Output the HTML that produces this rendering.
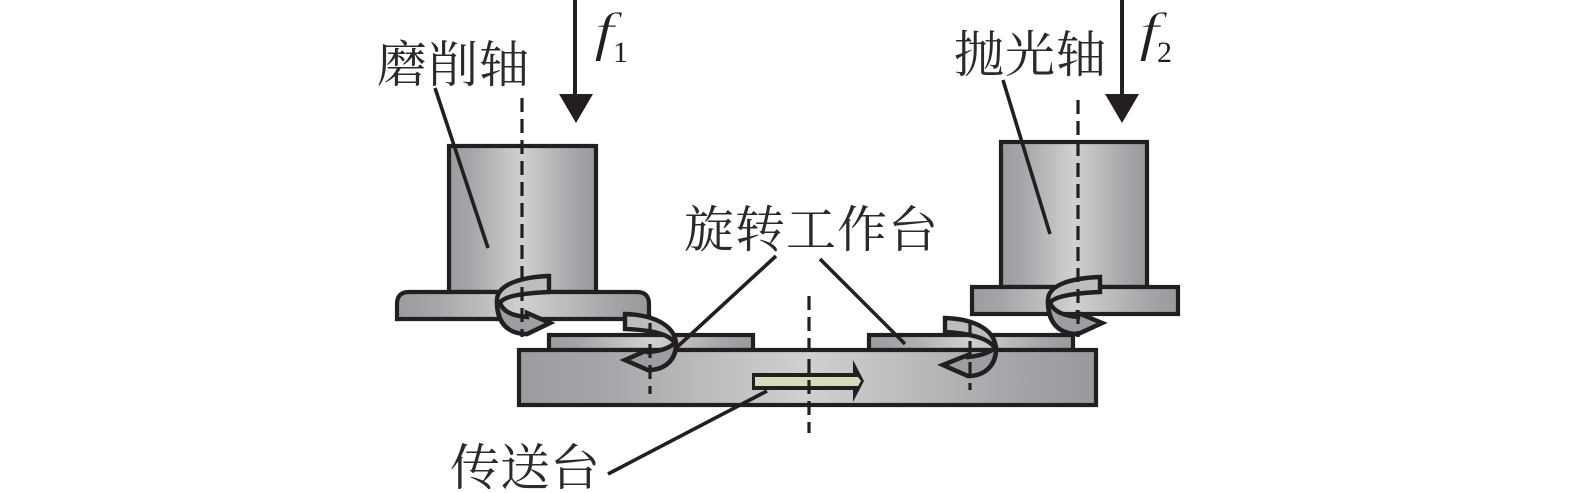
<!DOCTYPE html>
<html><head><meta charset="utf-8">
<style>html,body{margin:0;padding:0;background:#fff;width:1575px;height:493px;overflow:hidden}svg{display:block}
.c{font-family:"Liberation Serif","Noto Serif CJK SC",serif;font-size:50px;fill:#2a2a2a}
.f{font-family:"Liberation Serif",serif;font-style:italic;font-size:54px;fill:#231f20;stroke:#fff;stroke-width:.9px}
.n{font-family:"Liberation Serif",serif;font-size:30px;fill:#231f20}</style></head>
<body>
<svg width="1575" height="493" viewBox="0 0 1575 493" xmlns="http://www.w3.org/2000/svg">
<defs>
<linearGradient id="g"><stop offset="0" stop-color="#9b9c9f"/><stop offset=".15" stop-color="#a5a6a9"/><stop offset=".5" stop-color="#cfd1d1"/><stop offset=".85" stop-color="#a5a6a9"/><stop offset="1" stop-color="#98999c"/></linearGradient>
</defs>
<g stroke="#231f20" stroke-width="4.2">
<rect x="449" y="146" width="147" height="146" fill="url(#g)"/>
<path d="M397 319V304Q397 292 409 292H637Q649 292 649 304V319Z" fill="url(#g)"/>
<rect x="549" y="335" width="204" height="15" fill="url(#g)"/>
<rect x="869" y="335" width="204" height="15" fill="url(#g)"/>
<rect x="519" y="350" width="577" height="55" fill="url(#g)"/>
<rect x="1001" y="142" width="146" height="145" fill="url(#g)"/>
<rect x="972" y="287" width="206" height="27" fill="url(#g)"/>
</g>
<!-- leaders -->
<g stroke="#231f20" stroke-width="3.6" fill="none">
<path d="M435 88L488 248"/>
<path d="M1003 80L1050 234"/>
<path d="M776 256L675 349"/>
<path d="M820 259L905 344"/>
<path d="M767 391L608 474"/>
</g>
<!-- transfer arrow -->
<path d="M752 373H853V360L864 381L853 402V390H752Z" fill="#231f20"/>
<path d="M755 377H858L861 381L858 386H755Z" fill="#d3dcbb"/>
<!-- rotation arrows -->
<g stroke="#231f20" stroke-width="4.4" stroke-linejoin="miter" fill="#bcbebe">
<path d="M549 276V292C525 293 503 296 500 303C503 312 513 316 527 317V313L550 323L527 334C510 334 496 325 497 300C497 285 520 277 549 276Z" />
<path d="M500 303C503 312 513 316 527 317V313L550 323L527 334C510 334 498 325 497 303Z" fill="#9c9ea2"/>
<path d="M625 314V329C650 330 668 333 675 343C668 349 660 351 648 352V350L625 360L648 370C665 370 676 360 676 345C676 326 655 315 625 314Z"/>
<path d="M675 343C668 349 660 351 648 352V350L625 360L648 370C665 370 676 360 676 343Z" fill="#9c9ea2"/>
<path d="M945 318V332C965 333 988 337 995 348C988 354 978 356 968 357V355L943 365L968 376C985 376 996 365 996 350C996 330 975 319 945 318Z"/>
<path d="M995 348C988 354 978 356 968 357V355L943 365L968 376C985 376 996 365 996 348Z" fill="#9c9ea2"/>
<path d="M1100 277V292C1076 293 1054 296 1050 303C1054 312 1064 316 1078 317V313L1102 323L1078 334C1061 334 1047 325 1048 300C1048 285 1071 278 1100 277Z"/>
<path d="M1050 303C1054 312 1064 316 1078 317V313L1102 323L1078 334C1061 334 1049 325 1048 303Z" fill="#9c9ea2"/>
</g>
<!-- axes -->
<g stroke="#231f20" stroke-width="3.2" fill="none" stroke-dasharray="14 7">
<path d="M522 98V337"/>
<path d="M1078 100V337"/>
<path d="M809 296V433"/>
<path d="M650 323V394"/>
<path d="M970 320V390"/>
</g>
<!-- feed arrows -->
<path d="M575 0V96M1122 0V96" stroke="#231f20" stroke-width="4" fill="none"/>
<path d="M559 94H593L576 123Z" fill="#231f20"/>
<path d="M1105 94H1139L1122 123Z" fill="#231f20"/>
<!-- text -->
<text class="c" x="377" y="82" textLength="152" lengthAdjust="spacing">磨削轴</text>
<text class="c" x="954" y="72" textLength="152" lengthAdjust="spacing">抛光轴</text>
<text class="c" x="684" y="247" textLength="254" lengthAdjust="spacing">旋转工作台</text>
<text class="c" x="450" y="485" textLength="150" lengthAdjust="spacing">传送台</text>
<text class="f" transform="translate(594 50) scale(1.35 1)" x="0" y="0">f</text><text class="n" x="613" y="62">1</text>
<text class="f" transform="translate(1139 50) scale(1.35 1)" x="0" y="0">f</text><text class="n" x="1157" y="62">2</text>
</svg>
</body></html>
